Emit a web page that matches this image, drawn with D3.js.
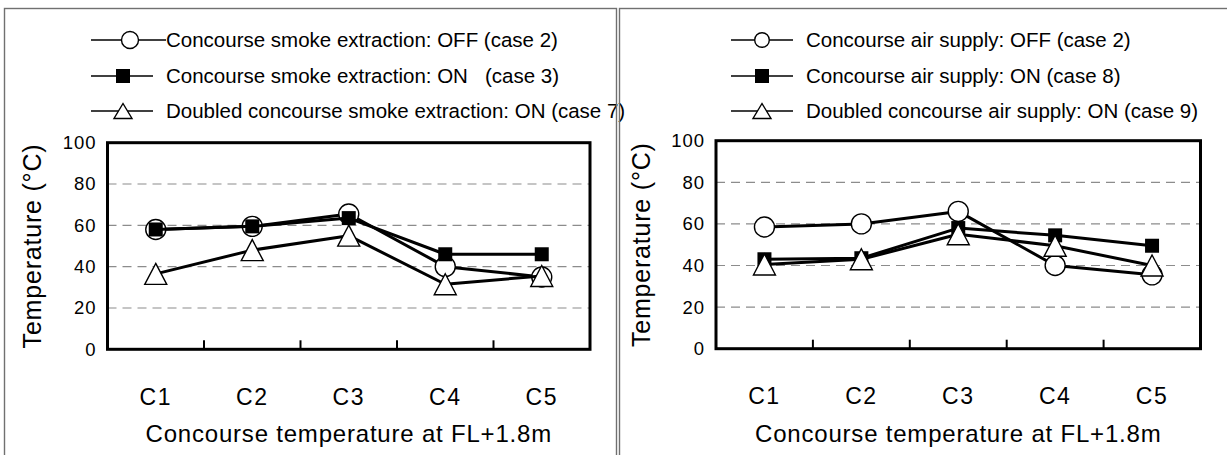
<!DOCTYPE html>
<html>
<head>
<meta charset="utf-8">
<script src="https://cdn.jsdelivr.net/npm/d3@7"></script>
<style>
  html, body { margin: 0; padding: 0; background: #fff; }
  svg { display: block; font-family: "Liberation Sans", Arial, sans-serif; }
</style>
</head>
<body>
<svg id="chart" width="1227" height="455"></svg>
<script>
// ---- data ----
const categories = ["C1", "C2", "C3", "C4", "C5"];
const yTickValues = [0, 20, 40, 60, 80, 100];
const xAxisTitle = "Concourse temperature at FL+1.8m";
const yAxisTitle = "Temperature (°C)";

const leftOff     = [58, 59.5, 65.5, 40, 35];
const leftOn      = [58, 59.5, 63.5, 46, 46];
const leftDoubled = [36.5, 48, 55, 31.5, 35.5];
const leftLabels  = [
  "Concourse smoke extraction: OFF (case 2)",
  "Concourse smoke extraction: ON   (case 3)",
  "Doubled concourse smoke extraction: ON (case 7)"
];

const rightOff     = [58.5, 60, 66, 40, 35.5];
const rightOn      = [43, 43.5, 58, 54.5, 49.5];
const rightDoubled = [40.5, 43, 55, 49.5, 40];
const rightLabels  = [
  "Concourse air supply: OFF (case 2)",
  "Concourse air supply: ON (case 8)",
  "Doubled concourse air supply: ON (case 9)"
];

const markerTypes = ["circle", "square", "triangle"];

// ---- drawing ----
const svg = d3.select("#chart");

function marker(g, type, cx, cy, s) {
  if (type === "circle") {
    g.append("circle").attr("cx", cx).attr("cy", cy).attr("r", s.r)
      .attr("fill", "#fff").attr("stroke", "#000").attr("stroke-width", 1.4);
  } else if (type === "square") {
    g.append("rect").attr("x", cx - s.sq / 2).attr("y", cy - s.sq / 2)
      .attr("width", s.sq).attr("height", s.sq).attr("fill", "#000");
  } else {
    const w = s.tw, h = s.th;
    g.append("path")
      .attr("d", `M${cx},${cy - h / 2}L${cx + w / 2},${cy + h / 2}L${cx - w / 2},${cy + h / 2}Z`)
      .attr("fill", "#fff").attr("stroke", "#000").attr("stroke-width", 1.4)
      .attr("stroke-linejoin", "miter");
  }
}

function drawPanel(cfg) {
  const g = svg.append("g");
  const x = d3.scaleBand().domain(categories).range([cfg.px0, cfg.px1]);
  const y = d3.scaleLinear().domain([0, 100]).range([cfg.py1, cfg.py0]);
  const cx = c => x(c) + x.bandwidth() / 2;

  // gridlines
  g.append("g").selectAll("line").data(yTickValues.filter(v => v > 0 && v < 100)).join("line")
    .attr("x1", cfg.px0).attr("x2", cfg.px1)
    .attr("y1", d => y(d)).attr("y2", d => y(d))
    .attr("stroke", "#8c8c8c").attr("stroke-width", 1.2)
    .attr("stroke-dasharray", "9,6");

  // y axis labels
  const ya = g.append("g").attr("transform", `translate(${cfg.px0},0)`)
    .call(d3.axisLeft(y).tickValues(yTickValues).tickSize(0).tickPadding(cfg.ylabPad));
  ya.select(".domain").remove();
  ya.selectAll("text").attr("font-size", 18.5).attr("letter-spacing", 1)
    .attr("fill", "#000").attr("font-family", "Liberation Sans, Arial, sans-serif");

  // x axis labels
  const xa = g.append("g").attr("transform", `translate(0,${cfg.py1})`)
    .call(d3.axisBottom(x).tickSize(0).tickPadding(39));
  xa.select(".domain").remove();
  xa.selectAll("text").attr("font-size", 23).attr("letter-spacing", 1.5)
    .attr("fill", "#000").attr("font-family", "Liberation Sans, Arial, sans-serif");

  // inner ticks at category boundaries
  g.append("g").selectAll("line").data(categories.slice(1)).join("line")
    .attr("x1", d => x(d)).attr("x2", d => x(d))
    .attr("y1", cfg.py1).attr("y2", cfg.py1 - 9)
    .attr("stroke", "#000").attr("stroke-width", 2);

  // series
  const series = [cfg.off, cfg.on, cfg.doubled];
  const line = d3.line().x((d, i) => cx(categories[i])).y(d => y(d));
  const ms = { r: 10, sq: 14, tw: 22, th: 21 };
  series.forEach((vals, si) => {
    const sg = g.append("g");
    sg.append("path").datum(vals).attr("d", line)
      .attr("fill", "none").attr("stroke", "#000").attr("stroke-width", 3)
      .attr("stroke-linejoin", "round");
    vals.forEach((v, i) => marker(sg, markerTypes[si], cx(categories[i]), y(v), ms));
  });

  // plot frame
  g.append("rect").attr("x", cfg.px0).attr("y", cfg.py0)
    .attr("width", cfg.px1 - cfg.px0).attr("height", cfg.py1 - cfg.py0)
    .attr("fill", "none").attr("stroke", "#000").attr("stroke-width", 3);

  // axis titles
  g.append("text").attr("x", (cfg.px0 + cfg.px1) / 2).attr("y", 442)
    .attr("text-anchor", "middle").attr("font-size", 24).attr("letter-spacing", 0.8)
    .text(xAxisTitle);
  g.append("text")
    .attr("transform", `translate(${cfg.ytx},${(cfg.py0 + cfg.py1) / 2}) rotate(-90)`)
    .attr("text-anchor", "middle").attr("dy", "0.36em")
    .attr("font-size", 25).attr("letter-spacing", 0.8)
    .text(yAxisTitle);

  // legend
  const lg = g.append("g");
  const lms = cfg.legendMarker;
  cfg.labels.forEach((lab, i) => {
    const r = cfg.legendRows[i];
    const lx0 = cfg.legLine[i][0], lx1 = cfg.legLine[i][1], mx = cfg.legLine[i][2];
    lg.append("line").attr("x1", lx0).attr("x2", lx1).attr("y1", r).attr("y2", r)
      .attr("stroke", "#000").attr("stroke-width", 1.3);
    marker(lg, markerTypes[i], mx, r, lms);
    lg.append("text").attr("x", cfg.legText).attr("y", r).attr("dy", "0.35em")
      .attr("font-size", 20.5).style("white-space", "pre").text(lab);
  });
}

drawPanel({
  px0: 107.5, px1: 590, py0: 142.7, py1: 349.3, ylabPad: 11, ytx: 31.6,
  off: leftOff, on: leftOn, doubled: leftDoubled, labels: leftLabels,
  legendRows: [40, 76, 111],
  legLine: [[91, 166, 130], [91, 153, 123], [91, 153, 123]],
  legText: 166,
  legendMarker: { r: 8.5, sq: 14, tw: 18, th: 15 }
});

drawPanel({
  px0: 716, px1: 1200.5, py0: 140.7, py1: 348.7, ylabPad: 11, ytx: 641,
  off: rightOff, on: rightOn, doubled: rightDoubled, labels: rightLabels,
  legendRows: [40, 76, 111],
  legLine: [[731, 793, 762], [731, 793, 762], [731, 793, 762]],
  legText: 806,
  legendMarker: { r: 7.3, sq: 14, tw: 18, th: 15 }
});

// panel frames
svg.append("rect").attr("x", 4.5).attr("y", 8.5).attr("width", 612).attr("height", 460)
  .attr("fill", "none").attr("stroke", "#707070").attr("stroke-width", 1.4);
svg.append("rect").attr("x", 619.5).attr("y", 8.5).attr("width", 620).attr("height", 460)
  .attr("fill", "none").attr("stroke", "#707070").attr("stroke-width", 1.4);
</script>
</body>
</html>
